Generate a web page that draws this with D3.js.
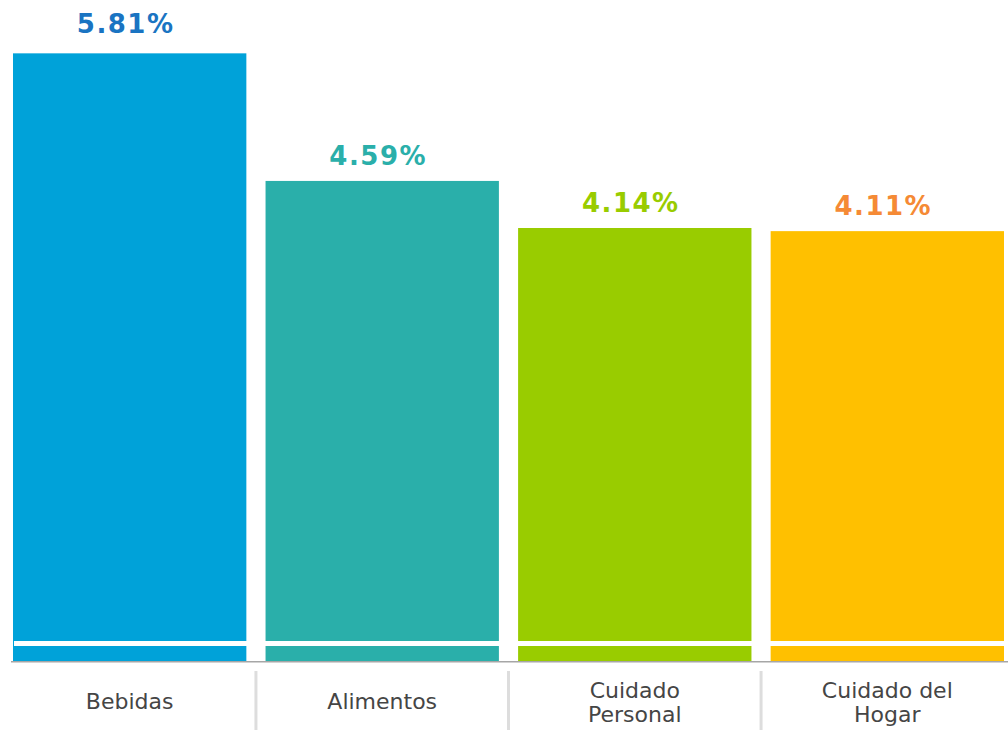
<!DOCTYPE html>
<html>
<head>
<meta charset="utf-8">
<script src="https://cdn.jsdelivr.net/npm/d3@7"></script>
<style>
  body { margin: 0; background: #fff; }
  svg { display: block; font-family: "DejaVu Sans", Verdana, sans-serif; }
</style>
</head>
<body>
<svg width="1008" height="730"></svg>
<script>
// chart data
const categories = ['Bebidas', 'Alimentos', 'Cuidado Personal', 'Cuidado del Hogar'];
const labelLines = [['Bebidas'], ['Alimentos'], ['Cuidado', 'Personal'], ['Cuidado del', 'Hogar']];
const values = [5.81, 4.59, 4.14, 4.11];
const barColors = ['#00a2d9', '#2aafaa', '#99cc00', '#ffc000'];
const labelColors = ['#1a74c2', '#2aafaa', '#99cc00', '#f58a35'];

const svg = d3.select('svg');
const width = +svg.attr('width');
const height = +svg.attr('height');

const baseY = 661;

const xScale = d3.scaleBand()
    .domain(categories)
    .range([13, 1004])
    .paddingInner(0.076)
    .paddingOuter(0);

const yScale = d3.scaleLinear()
    .domain([0, 6.32])
    .range([baseY, 0]);

const data = categories.map((c, i) => ({
    cat: c, value: values[i], color: barColors[i], lc: labelColors[i], lines: labelLines[i]
}));

// bars
svg.selectAll('rect.bar').data(data)
  .enter().append('rect')
    .attr('class', 'bar')
    .attr('x', d => xScale(d.cat))
    .attr('y', d => yScale(d.value))
    .attr('width', xScale.bandwidth())
    .attr('height', d => baseY - yScale(d.value))
    .attr('fill', d => d.color);

// white break stripe across the bars
svg.append('rect')
    .attr('x', 14)
    .attr('y', 641)
    .attr('width', 990)
    .attr('height', 5)
    .attr('fill', '#fff');

// baseline
svg.append('line')
    .attr('x1', 11).attr('x2', width)
    .attr('y1', baseY + 0.8).attr('y2', baseY + 0.8)
    .attr('stroke', '#a6a6a6')
    .attr('stroke-width', 1.5);

// value labels
svg.selectAll('text.value').data(data)
  .enter().append('text')
    .attr('class', 'value')
    .attr('x', d => xScale(d.cat) + xScale.bandwidth() / 2 - 4)
    .attr('y', (d, i) => yScale(d.value) - (i === 0 ? 20 : 16))
    .attr('text-anchor', 'middle')
    .attr('font-size', 26)
    .attr('font-weight', 'bold')
    .attr('letter-spacing', 1.5)
    .attr('fill', d => d.lc)
    .text(d => d.value.toFixed(2) + '%');

// separators between category labels
const step = xScale.step();
const seps = categories.slice(1).map(c => xScale(c) - (step - xScale.bandwidth()) / 2);
svg.selectAll('line.sep').data(seps)
  .enter().append('line')
    .attr('class', 'sep')
    .attr('x1', d => d).attr('x2', d => d)
    .attr('y1', 671).attr('y2', height)
    .attr('stroke', '#dddddd')
    .attr('stroke-width', 3);

// category labels
const catText = svg.selectAll('text.cat').data(data)
  .enter().append('text')
    .attr('class', 'cat')
    .attr('text-anchor', 'middle')
    .attr('font-size', 22)
    .attr('fill', '#454545')
    .attr('x', d => xScale(d.cat) + xScale.bandwidth() / 2);

catText.selectAll('tspan')
  .data(d => d.lines.map((l, i) => ({ l, i, n: d.lines.length })))
  .enter().append('tspan')
    .attr('x', function() { return d3.select(this.parentNode).attr('x'); })
    .attr('y', d => d.n === 1 ? 709 : 698 + d.i * 24)
    .text(d => d.l);
</script>
</body>
</html>
